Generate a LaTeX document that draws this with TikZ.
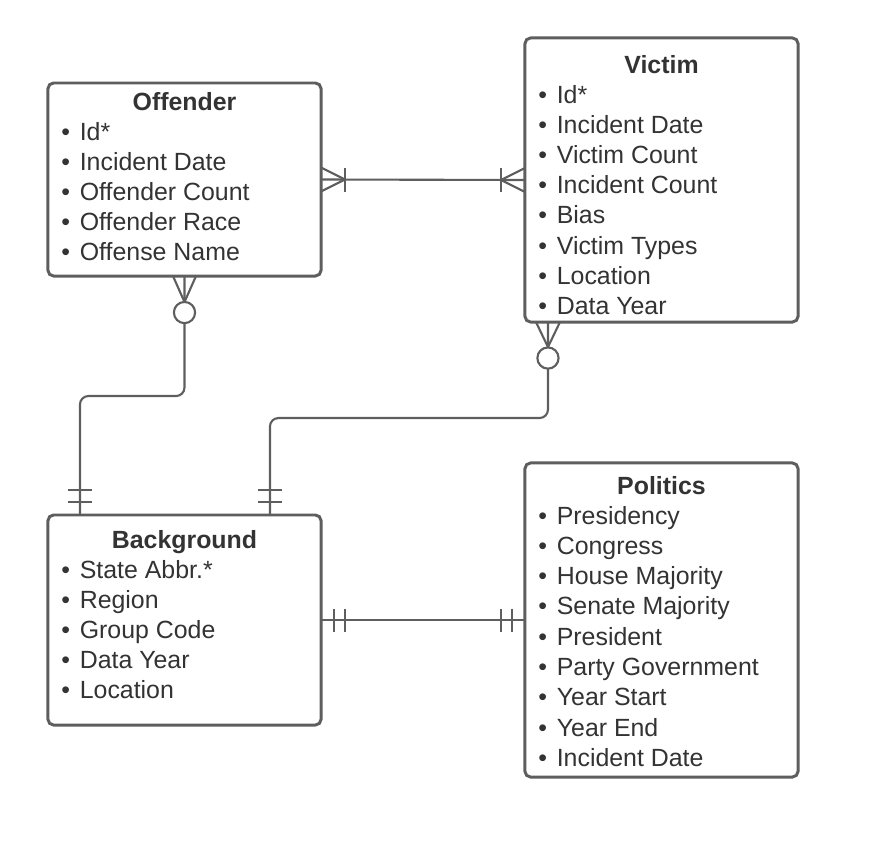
\documentclass[tikz,border=0pt]{standalone}
\usepackage{fontspec}
\setmainfont{Liberation Sans}
\usetikzlibrary{calc}
\definecolor{linegray}{HTML}{5E5E5E}
\definecolor{textgray}{HTML}{333333}
\begin{document}
\begin{tikzpicture}[x=0.025cm,y=-0.025cm]
    \useasboundingbox (0,0) rectangle (889,842);
    \tikzstyle{entitybox} = [rectangle,draw=linegray,line width=2.1pt,rounded corners=4pt,fill=white,inner sep=0pt,outer sep=0pt,minimum width=6.825cm]
    \tikzstyle{entitytitle} = [anchor=base,inner sep=0pt,text=textgray,font=\fontsize{17.7}{21}\selectfont\bfseries]
    \tikzstyle{attrrow} = [anchor=base west,inner sep=0pt,text=textgray,font=\fontsize{17.7}{21}\selectfont]
    \tikzstyle{relline} = [draw=linegray,line width=1.5pt]
    % entities
    \node[entitybox,minimum height=4.825cm] (off) at (184.5,179.5) {};
    \node[entitybox,minimum height=7.1cm] (vic) at (661.5,180) {};
    \node[entitybox,minimum height=5.25cm] (bg) at (184.5,620) {};
    \node[entitybox,minimum height=7.85cm] (pol) at (661.5,620) {};
    \node[entitytitle] (offtitle) at (184.5,110) {Offender};
    \node[entitytitle] (victitle) at (661.5,73) {Victim};
    \node[entitytitle] (bgtitle) at (184.5,548) {Background};
    \node[entitytitle] (poltitle) at (661.5,494) {Politics};
    \foreach \txt [count=\i] in {Id*,Incident Date,Offender Count,Offender Race,Offense Name}
        \node[attrrow] (off-\i) at (61,{140+30.2*(\i-1)}) {\textbullet\hspace{7pt}\txt};
    \foreach \txt [count=\i] in {Id*,Incident Date,Victim Count,Incident Count,Bias,Victim Types,Location,Data Year}
        \node[attrrow] (vic-\i) at (538,{103+30.2*(\i-1)}) {\textbullet\hspace{7pt}\txt};
    \foreach \txt [count=\i] in {State Abbr.*,Region,Group Code,Data Year,Location}
        \node[attrrow] (bg-\i) at (61,{578+30.2*(\i-1)}) {\textbullet\hspace{7pt}\txt};
    \foreach \txt [count=\i] in {Presidency,Congress,House Majority,Senate Majority,President,Party Government,Year Start,Year End,Incident Date}
        \node[attrrow] (pol-\i) at (538,{524+30.3*(\i-1)}) {\textbullet\hspace{7pt}\txt};
    % relations
    \coordinate (bgleft) at ($(bg.north west)+(32,0)$);
    \coordinate (bgright) at ($(bg.north west)+(222,0)$);
    \coordinate (vicfoot) at ($(vic.south west)+(23,0)$);
    \draw[relline] (off.east) -- (vic.west);
    \draw[relline] (bg.east) -- (pol.west);
    \draw[relline,rounded corners=6pt] (off.south) -- ++(0,120) -| (bgleft);
    \draw[relline,rounded corners=6pt] (vicfoot) -- ++(0,96) -| (bgright);
    % offender - victim ends
    \draw[relline] ($(off.east)+(0,-12)$) -- ($(off.east)+(24,0)$) -- ($(off.east)+(0,12)$);
    \draw[relline] ($(off.east)+(24,-12)$) -- ($(off.east)+(24,12)$);
    \draw[relline] ($(vic.west)+(0,-12)$) -- ($(vic.west)+(-24,0)$) -- ($(vic.west)+(0,12)$);
    \draw[relline] ($(vic.west)+(-24,-12)$) -- ($(vic.west)+(-24,12)$);
    % offender - background ends
    \draw[relline] ($(off.south)+(-11.5,0)$) -- ($(off.south)+(0,26)$) -- ($(off.south)+(11.5,0)$);
    \draw[relline,fill=white] ($(off.south)+(0,36.5)$) circle[radius=0.265cm];
    \draw[relline] ($(bgleft)+(-12,-13)$) -- ($(bgleft)+(12,-13)$);
    \draw[relline] ($(bgleft)+(-12,-25)$) -- ($(bgleft)+(12,-25)$);
    % victim - background ends
    \draw[relline] ($(vicfoot)+(-12,0)$) -- ($(vicfoot)+(0,25)$) -- ($(vicfoot)+(12,0)$);
    \draw[relline,fill=white] ($(vicfoot)+(0,36)$) circle[radius=0.265cm];
    \draw[relline] ($(bgright)+(-12,-13)$) -- ($(bgright)+(12,-13)$);
    \draw[relline] ($(bgright)+(-12,-25)$) -- ($(bgright)+(12,-25)$);
    % background - politics ends
    \draw[relline] ($(bg.east)+(13,-11.5)$) -- ($(bg.east)+(13,11.5)$);
    \draw[relline] ($(bg.east)+(24,-11.5)$) -- ($(bg.east)+(24,11.5)$);
    \draw[relline] ($(pol.west)+(-13,-11.5)$) -- ($(pol.west)+(-13,11.5)$);
    \draw[relline] ($(pol.west)+(-24,-11.5)$) -- ($(pol.west)+(-24,11.5)$);
\end{tikzpicture}
\end{document}
